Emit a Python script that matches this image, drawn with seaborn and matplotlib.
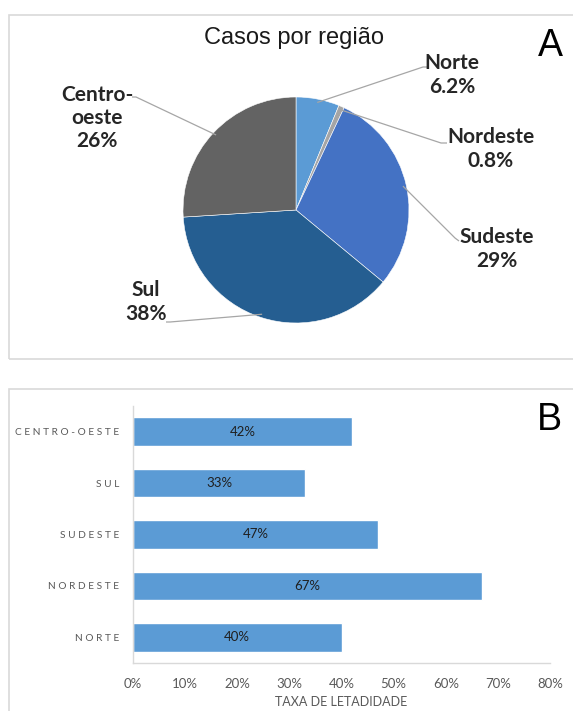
import numpy as np
import pandas as pd
import matplotlib
matplotlib.use("Agg")
import matplotlib.pyplot as plt
from matplotlib.patches import Rectangle
from matplotlib.ticker import FuncFormatter
import seaborn as sns

# --- data -------------------------------------------------------------
pie_regions = ["Norte", "Nordeste", "Sudeste", "Sul", "Centro-\noeste"]
pie_shares = [6.2, 0.8, 29, 38, 26]
pie_share_labels = ["6.2%", "0.8%", "29%", "38%", "26%"]
pie_colors = ["#5B9BD5", "#A5A5A5", "#4472C4", "#255E91", "#636363"]

bar_regions = ["CENTRO-OESTE", "SUL", "SUDESTE", "NORDESTE", "NORTE"]
lethality = [0.42, 0.33, 0.47, 0.67, 0.40]
x_ticks = [0.0, 0.1, 0.2, 0.3, 0.4, 0.5, 0.6, 0.7, 0.8]

# --- figure -----------------------------------------------------------
sns.set_theme(style="white")
plt.rcParams["font.family"] = ["Lato", "DejaVu Sans"]

W, H = 573, 711
fig = plt.figure(figsize=(W / 100, H / 100), dpi=100)
fig.patch.set_facecolor("white")


def fx(px):
    return px / W


def fy(py):
    return 1 - py / H


# panel frames
frame_kw = dict(transform=fig.transFigure, fill=False, ec="#D9D9D9", lw=1.2)
fig.add_artist(Rectangle((fx(9), fy(359)), 1.2, (359 - 15) / H, **frame_kw))
fig.add_artist(Rectangle((fx(9), fy(760)), 1.2, (760 - 389) / H, **frame_kw))

# --- panel A: pie -----------------------------------------------------
cx, cy, r = 296, 210, 113
ax_pie = fig.add_axes([fx(cx - r), fy(cy + r), 2 * r / W, 2 * r / H])
wedges, _ = ax_pie.pie(
    pie_shares, colors=pie_colors, startangle=90, counterclock=False,
    radius=1, wedgeprops=dict(edgecolor="white", linewidth=0.4),
)
ax_pie.set_xlim(-1, 1)
ax_pie.set_ylim(-1, 1)
ax_pie.set_aspect("equal")
ax_pie.axis("off")


def to_data(px, py):
    return (px - cx) / r, (cy - py) / r


# leader line end points and label centres (pixels)
leader_ends = [[(423, 67), (428, 67)], [(441, 143), (447, 143)],
               [(455, 238), (459, 241)], [(170, 322), (166, 322)],
               [(136, 97), (132, 97)]]
label_pos = [(452, 75), (491, 149), (497, 249), (146, 302), (97, 118)]

for w, ends, pos, name, share in zip(wedges, leader_ends, label_pos,
                                     pie_regions, pie_share_labels):
    mid = np.deg2rad((w.theta1 + w.theta2) / 2)
    xs = [0.97 * np.cos(mid)] + [to_data(*p)[0] for p in ends]
    ys = [0.97 * np.sin(mid)] + [to_data(*p)[1] for p in ends]
    ax_pie.plot(xs, ys, color="#A6A6A6", lw=0.9, clip_on=False,
                solid_capstyle="butt")
    tx, ty = to_data(*pos)
    ax_pie.text(tx, ty, f"{name}\n{share}", ha="center", va="center",
                fontsize=15, fontweight="bold", color="#262626",
                linespacing=1.2, clip_on=False)

fig.text(fx(294), fy(38), "Casos por região", ha="center", va="center",
         fontsize=17, family=["Liberation Sans", "DejaVu Sans"],
         color="#1a1a1a")
fig.text(fx(550), fy(46), "A", ha="center", va="center", fontsize=27,
         family=["Liberation Sans", "DejaVu Sans"], color="black")

# --- panel B: bars ----------------------------------------------------
ax_bar = fig.add_axes([fx(133), fy(663), (550 - 133) / W, (663 - 406) / H])
df = pd.DataFrame({"region": bar_regions, "rate": lethality})
sns.barplot(data=df, x="rate", y="region", orient="h", color="#5B9BD5",
            saturation=1, width=0.56, ax=ax_bar)

for patch, v in zip(ax_bar.patches, lethality):
    y = patch.get_y() + patch.get_height() / 2
    ax_bar.text(v / 2, y, f"{round(v * 100)}%", ha="center", va="center",
                fontsize=9.5, color="#1f1f1f")

ax_bar.set_xlim(0, 0.8)
ax_bar.set_xticks(x_ticks)
ax_bar.xaxis.set_major_formatter(FuncFormatter(lambda v, _: f"{v * 100:.0f}%"))
ax_bar.set_yticks(range(len(bar_regions)))
ax_bar.set_yticklabels([" ".join(s) for s in bar_regions])
ax_bar.tick_params(axis="x", length=0, pad=11, labelsize=9.5,
                   labelcolor="#595959")
ax_bar.tick_params(axis="y", length=0, pad=10, labelsize=7.3,
                   labelcolor="#595959")
ax_bar.set_xlabel("TAXA DE LETADIDADE", fontsize=9, color="#595959",
                  labelpad=4)
ax_bar.set_ylabel("")
for side in ("top", "right"):
    ax_bar.spines[side].set_visible(False)
for side in ("left", "bottom"):
    ax_bar.spines[side].set_color("#D9D9D9")
    ax_bar.spines[side].set_linewidth(1)
ax_bar.set_facecolor("white")

fig.text(fx(549), fy(420), "B", ha="center", va="center", fontsize=27,
         family=["Liberation Sans", "DejaVu Sans"], color="black")

fig.savefig("out.png", dpi=100, facecolor="white")
